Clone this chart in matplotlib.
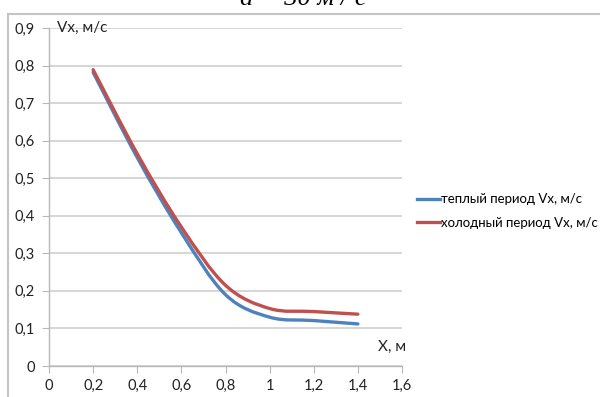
import numpy as np
import matplotlib.pyplot as plt
from matplotlib.path import Path
from matplotlib.patches import PathPatch, Rectangle
from matplotlib.lines import Line2D

plt.rcParams['font.family'] = ['Lato', 'DejaVu Sans']

# данные
x_m = [0.2, 0.4, 0.6, 0.8, 1.0, 1.2, 1.4]
v_warm = [0.782, 0.555, 0.355, 0.190, 0.130, 0.121, 0.112]
v_cold = [0.789, 0.565, 0.370, 0.215, 0.153, 0.145, 0.138]
x_ticks = [0, 0.2, 0.4, 0.6, 0.8, 1.0, 1.2, 1.4, 1.6]
y_ticks = [0, 0.1, 0.2, 0.3, 0.4, 0.5, 0.6, 0.7, 0.8, 0.9]
labels = ['теплый период Vx, м/с', 'холодный период Vx, м/с']
colors = ['#4F81BD', '#C0504D']


def smooth_path(xs, ys):
    # сглаженная линия как в Excel (кривые Безье)
    p = np.column_stack([xs, ys])
    verts = [p[0]]
    codes = [Path.MOVETO]
    n = len(p)
    for i in range(n - 1):
        p0 = p[i - 1] if i > 0 else p[i]
        p3 = p[i + 2] if i + 2 < n else p[i + 1]
        c1 = p[i] + (p[i + 1] - p0) / 6
        c2 = p[i + 1] - (p3 - p[i]) / 6
        verts += [c1, c2, p[i + 1]]
        codes += [Path.CURVE4] * 3
    return Path(verts, codes)


def fmt(v):
    return ('%g' % v).replace('.', ',')


fig = plt.figure(figsize=(6, 3.97), dpi=100)
fig.patches.append(Rectangle((8 / 600, -0.1), 1.2, 1 - 14 / 397 + 0.1,
                             transform=fig.transFigure, fill=False,
                             edgecolor='#c4c4c4', lw=1.5))
# заголовок обрезан сверху, как на исходной картинке
fig.text(0.505, 1 - 5 / 397, 'a = 30 м / с', family='Liberation Serif',
         style='italic', fontsize=19, ha='center', va='baseline')

ax = fig.add_axes([49 / 600, 1 - 366 / 397, 353 / 600, 338 / 397])
ax.set_xlim(0, 1.6)
ax.set_ylim(0, 0.9)
ax.set_xticks(x_ticks)
ax.set_yticks(y_ticks)
ax.set_xticklabels([fmt(t) for t in x_ticks])
ax.set_yticklabels([fmt(t) for t in y_ticks])
ax.grid(axis='y', color='#d0d0d0', lw=1.2)
ax.set_axisbelow(True)
for s in ['top', 'right']:
    ax.spines[s].set_visible(False)
for s in ['left', 'bottom']:
    ax.spines[s].set_color('#b8b8b8')
    ax.spines[s].set_linewidth(1.0)
ax.tick_params(direction='out', length=5, color='#b8b8b8', labelsize=10.5,
               labelcolor='#222222')
ax.tick_params(axis='y', pad=5)
ax.tick_params(axis='x', pad=4)

for ys, c in zip([v_warm, v_cold], colors):
    ax.add_patch(PathPatch(smooth_path(x_m, ys), fill=False, edgecolor=c,
                           lw=2.4, capstyle='round', transform=ax.transData))

ax.text(0.022, 0.9, 'Vx, м/с', transform=ax.get_yaxis_transform(),
        fontsize=11, va='center', ha='left', color='#222222')
ax.text(1.49, 0.05, 'X, м', fontsize=11, va='center', ha='left',
        color='#222222')

handles = [Line2D([], [], color=c, lw=2.4) for c in colors]
fig.legend(handles, labels, loc='center left',
           bbox_to_anchor=(412 / 600, 1 - 211 / 397), frameon=False,
           fontsize=9.5, handlelength=1.7, handletextpad=0.1,
           labelspacing=0.85, borderaxespad=0)

fig.savefig('out.png', dpi=100)
